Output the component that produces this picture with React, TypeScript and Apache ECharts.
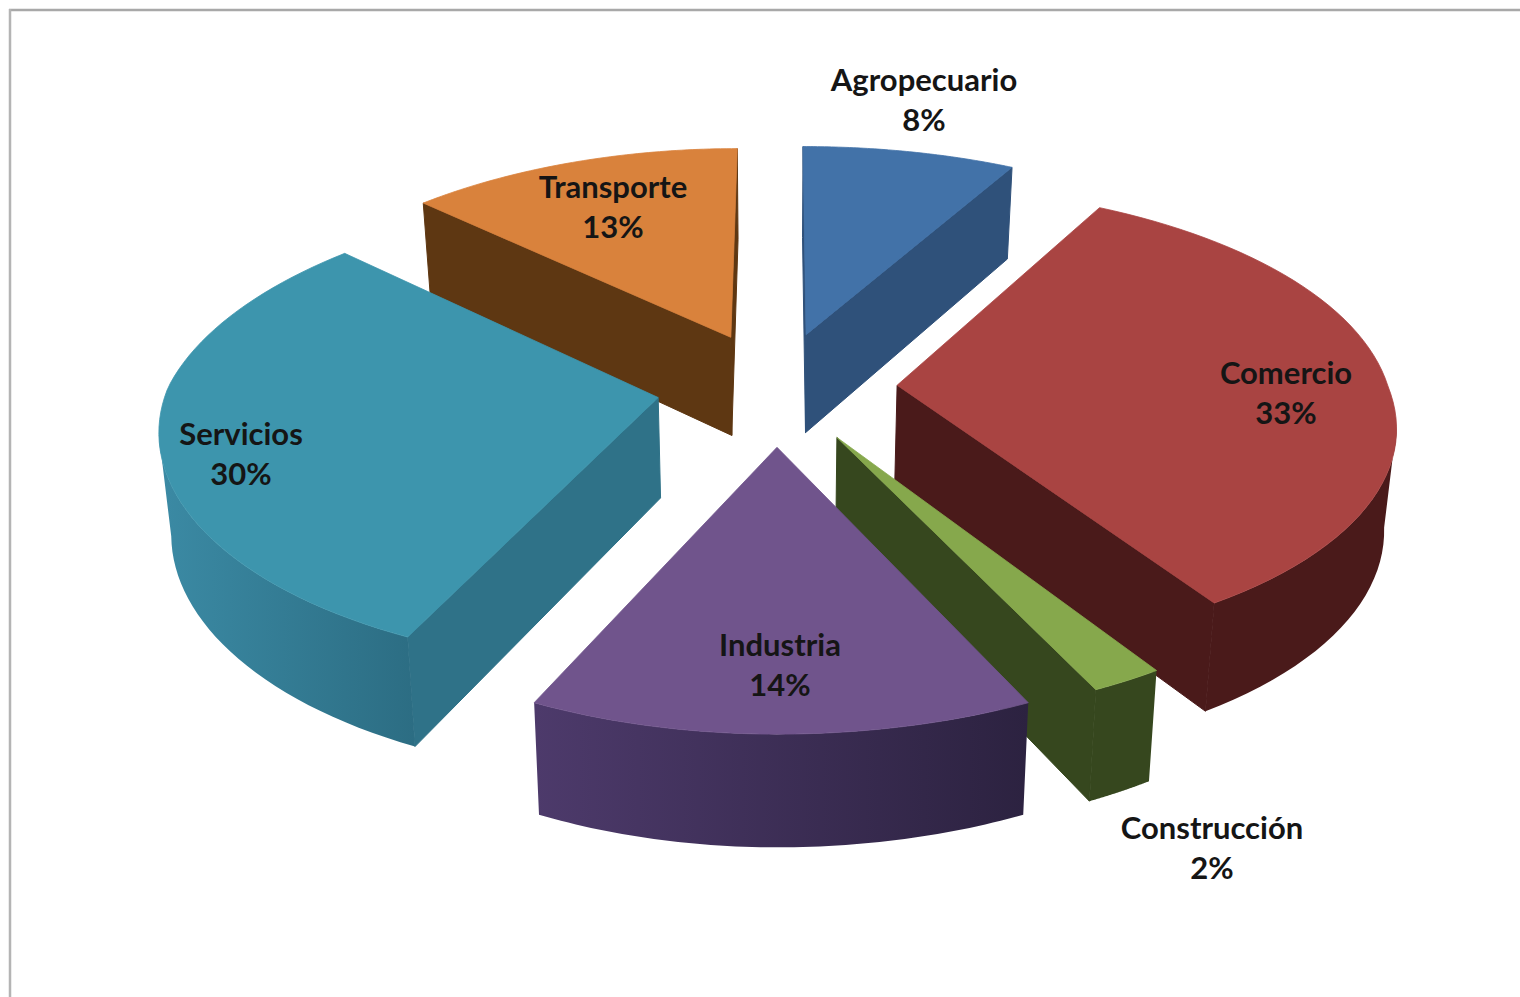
import React, { useEffect, useRef } from "react";
import * as echarts from "echarts";

const categories = ["Agropecuario", "Comercio", "Construcción", "Industria", "Servicios", "Transporte"];
const shares = [8, 33, 2, 14, 30, 13];
const drawOrder = [5, 0, 1, 2, 3, 4];

const topColors = ["#4272a8", "#a94442", "#86a84c", "#70548c", "#3d95ad", "#d9823c"];
const sideColors = [
  ["#2f517a", "#2f517a"],
  ["#4a1a1a", "#4a1a1a"],
  ["#36471e", "#36471e"],
  ["#4d3a6b", "#2c2240"],
  ["#3b8aa4", "#2c6d83"],
  ["#5e3712", "#5e3712"],
];
const edgeSideColors = ["#2f517a", "#4a1a1a", "#36471e", "#2c2240", "#2f7288", "#5e3712"];
const labelSpots = [
  [924, 99], [1286, 392], [1212, 847], [780, 664], [241, 453], [613, 206],
];
const explode = [0.245, 0.245, 0.245, 0.255, 0.245, 0.245];

const CX = 777, CY = 387, SX = 491, SY = 228, KX = 0.12, KY = 0.14;
const SKEW_BACK_LEFT = 16, SKEW_FRONT_RIGHT = 17;

function project(x: number, y: number): [number, number] {
  const skew =
    SKEW_BACK_LEFT * Math.max(0, -x) * Math.max(0, y) +
    SKEW_FRONT_RIGHT * Math.max(0, x) * Math.max(0, -y);
  return [CX + (SX * x) / (1 + KX * y) + skew, CY - (SY * y) / (1 + KY * y)];
}
function drop(p: [number, number]): [number, number] {
  const dy = p[1] - CY;
  return [CX + (p[0] - CX) * 0.98, p[1] + 100 + 0.038 * dy];
}

function sliceRange(i: number) {
  const total = shares.reduce((a, b) => a + b, 0);
  let acc = 0;
  for (let k = 0; k < i; k++) acc += shares[k];
  const a0 = (acc / total) * Math.PI * 2;
  const a1 = ((acc + shares[i]) / total) * Math.PI * 2;
  return [a0, a1];
}

function renderItem(_params: any, api: any) {
  const i = api.value(0);
  const [a0, a1] = sliceRange(i);
  const mid = (a0 + a1) / 2;
  const ox = explode[i] * Math.sin(mid);
  const oy = explode[i] * Math.cos(mid);
  const apex = project(ox, oy);
  const arc: [number, number][] = [];
  const n = 60;
  for (let k = 0; k <= n; k++) {
    const a = a0 + ((a1 - a0) * k) / n;
    arc.push(project(ox + Math.sin(a), oy + Math.cos(a)));
  }
  const children: any[] = [];
  const radial = (p: [number, number], q: [number, number]) => {
    if (q[0] - p[0] >= 0) return;
    children.push({
      type: "polygon",
      shape: { points: [p, q, drop(q), drop(p)] },
      style: { fill: edgeSideColors[i], stroke: edgeSideColors[i], lineWidth: 1 },
    });
  };
  radial(apex, arc[0]);
  radial(arc[n], apex);
  const visible: [number, number][] = [];
  for (let k = 0; k < n; k++) {
    if (arc[k + 1][0] < arc[k][0]) {
      if (!visible.length) visible.push(arc[k]);
      visible.push(arc[k + 1]);
    }
  }
  if (visible.length > 1) {
    const pts = [...visible, ...visible.slice().reverse().map(drop)];
    children.push({
      type: "polygon",
      shape: { points: pts },
      style: {
        fill: new echarts.graphic.LinearGradient(0, 0, 1, 0, [
          { offset: 0, color: sideColors[i][0] },
          { offset: 1, color: sideColors[i][1] },
        ]),
      },
    });
  }
  children.push({
    type: "polygon",
    shape: { points: [apex, ...arc] },
    style: { fill: topColors[i], stroke: topColors[i], lineWidth: 0.8 },
  });
  return { type: "group", children };
}

export default function App() {
  const ref = useRef<HTMLDivElement>(null);
  useEffect(() => {
    const chart = echarts.init(ref.current!, undefined, { renderer: "svg" });
    chart.setOption({
      animation: false,
      backgroundColor: "#ffffff",
      graphic: [
        {
          type: "line",
          z: -1,
          shape: { x1: 9, y1: 10, x2: 1520, y2: 10 },
          style: { stroke: "#a8a8a8", lineWidth: 2.5 },
        },
        {
          type: "line",
          z: -1,
          shape: { x1: 10, y1: 9, x2: 10, y2: 997 },
          style: { stroke: "#b4b4b4", lineWidth: 2.5 },
        },
        ...categories.map((name, i) => ({
          type: "text",
          z: 10,
          x: labelSpots[i][0],
          y: labelSpots[i][1],
          style: {
            text: `${name}\n${shares[i]}%`,
            fontFamily: "Lato",
            fontSize: 31,
            fontWeight: 700,
            lineHeight: 40,
            fill: "#151515",
            align: "center",
            verticalAlign: "middle",
          },
        })),
      ],
      series: [
        {
          type: "custom",
          coordinateSystem: "none",
          silent: true,
          renderItem,
          data: drawOrder.map((i) => [i]),
        },
      ],
    });
    return () => chart.dispose();
  }, []);
  return <div ref={ref} style={{ position: "absolute", left: 0, top: 0, width: 1520, height: 997 }} />;
}
